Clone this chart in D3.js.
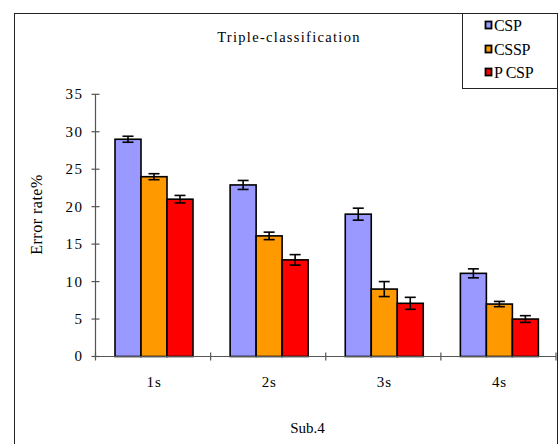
<!DOCTYPE html>
<html><head><meta charset="utf-8">
<script src="https://cdn.jsdelivr.net/npm/d3@7"></script>
<style>body{margin:0;background:#fff}svg{display:block}text{font-family:"Liberation Serif","Times New Roman",serif;fill:#000}</style>
</head><body>
<svg id="c" width="560" height="444"></svg>
<script>
const categories = ["1s", "2s", "3s", "4s"];
const seriesNames = ["CSP", "CSSP", "P CSP"];
const seriesColors = ["#9999FF", "#FF9900", "#FF0000"];
const cspValues = [29, 22.9, 19, 11.1];
const csspValues = [24, 16.1, 9, 7];
const pcspValues = [21, 12.9, 7.1, 5];
const cspErrors = [0.4, 0.6, 0.8, 0.6];
const csspErrors = [0.4, 0.5, 1.0, 0.35];
const pcspErrors = [0.5, 0.7, 0.8, 0.45];
const yTicks = [0, 5, 10, 15, 20, 25, 30, 35];
const titleText = "Triple-classification";
const yLabel = "Error rate%";
const xLabel = "Sub.4";

const values = [cspValues, csspValues, pcspValues];
const errors = [cspErrors, csspErrors, pcspErrors];

const svg = d3.select("#c");

// outer frame
svg.append("rect").attr("x", 14.5).attr("y", 13.5).attr("width", 543).attr("height", 440)
  .attr("fill", "none").attr("stroke", "#222").attr("stroke-width", 1);

const pLeft = 95.5, pRight = 556, pTop = 94.3, pBottom = 356.5;
const x = d3.scaleBand().domain(categories).range([pLeft, pRight]).padding(0);
const xs = d3.scaleBand().domain(seriesNames).range([19.5, 97.5]).padding(0);
const y = d3.scaleLinear().domain([0, 35]).range([pBottom, pTop]);

// title
svg.append("text").attr("x", 289).attr("y", 42).attr("text-anchor", "middle")
  .attr("font-size", 14.5).attr("letter-spacing", 1.3).text(titleText);

// bars
const groups = svg.append("g").selectAll("g").data(categories).join("g")
  .attr("transform", d => `translate(${x(d)},0)`);

seriesNames.forEach((s, si) => {
  groups.append("rect")
    .attr("x", xs(s)).attr("width", xs.bandwidth())
    .attr("y", (d, i) => y(values[si][i]))
    .attr("height", (d, i) => y(0) - y(values[si][i]))
    .attr("fill", seriesColors[si]).attr("stroke", "#000").attr("stroke-width", 1.6);
});

// error bars
seriesNames.forEach((s, si) => {
  const cx = xs(s) + xs.bandwidth() / 2;
  groups.each(function(d, i) {
    const g = d3.select(this);
    const v = values[si][i], e = errors[si][i];
    g.append("line").attr("x1", cx).attr("x2", cx).attr("y1", y(v + e)).attr("y2", y(v - e))
      .attr("stroke", "#000").attr("stroke-width", 1.6);
    [v + e, v - e].forEach(t => g.append("line").attr("x1", cx - 5.5).attr("x2", cx + 5.5)
      .attr("y1", y(t)).attr("y2", y(t)).attr("stroke", "#000").attr("stroke-width", 1.6));
  });
});

// y axis
const axisColor = "#555";
svg.append("line").attr("x1", pLeft).attr("x2", pLeft).attr("y1", pTop).attr("y2", pBottom)
  .attr("stroke", axisColor).attr("stroke-width", 1.2);
const yt = svg.append("g").selectAll("g").data(yTicks).join("g");
yt.append("line").attr("x1", pLeft - 4).attr("x2", pLeft + 4)
  .attr("y1", d => y(d)).attr("y2", d => y(d)).attr("stroke", axisColor).attr("stroke-width", 1.2);
yt.append("text").attr("x", 83.5).attr("y", d => y(d)).attr("dy", "0.33em")
  .attr("text-anchor", "end").attr("font-size", 15).attr("letter-spacing", 1.5).text(d => d);

// x axis
svg.append("line").attr("x1", pLeft).attr("x2", pRight).attr("y1", pBottom).attr("y2", pBottom)
  .attr("stroke", axisColor).attr("stroke-width", 1.2);
const edges = categories.map(c => x(c)).concat([pRight]);
svg.append("g").selectAll("line").data(edges).join("line")
  .attr("x1", d => d).attr("x2", d => d).attr("y1", pBottom - 4).attr("y2", pBottom + 4)
  .attr("stroke", axisColor).attr("stroke-width", 1.2);
svg.append("g").selectAll("text").data(categories).join("text")
  .attr("x", d => x(d) + x.bandwidth() / 2 + 1).attr("y", 387)
  .attr("text-anchor", "middle").attr("font-size", 15).attr("letter-spacing", 0.8).text(d => d);

// axis titles
svg.append("text").attr("transform", "translate(41.5,214.5) rotate(-90)")
  .attr("text-anchor", "middle").attr("font-size", 16).attr("letter-spacing", 0.5).text(yLabel);
svg.append("text").attr("x", 307.5).attr("y", 433).attr("text-anchor", "middle")
  .attr("font-size", 15).text(xLabel);

// legend
svg.append("rect").attr("x", 462.5).attr("y", 13.5).attr("width", 95).attr("height", 75)
  .attr("fill", "#fff").attr("stroke", "#222").attr("stroke-width", 1);
const legY = [25, 49, 72];
const lg = svg.append("g").selectAll("g").data(seriesNames).join("g")
  .attr("transform", (d, i) => `translate(484,${legY[i]})`);
lg.append("rect").attr("x", 1.5).attr("y", -3.5).attr("width", 6).attr("height", 7)
  .attr("fill", (d, i) => seriesColors[i]).attr("stroke", "#000").attr("stroke-width", 1.8);
lg.append("text").attr("x", 10).attr("y", 0).attr("dy", "0.35em").attr("font-size", 16)
  .attr("letter-spacing", -0.3).text(d => d);
</script>
</body></html>
